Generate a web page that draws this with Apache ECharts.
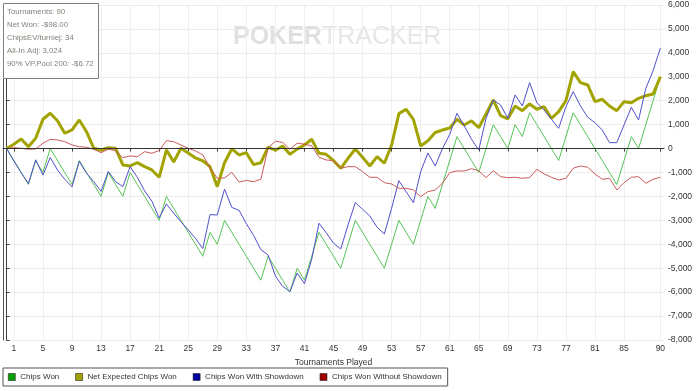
<!DOCTYPE html>
<html>
<head>
<meta charset="utf-8">
<script src="https://cdn.jsdelivr.net/npm/echarts@6/dist/echarts.min.js"></script>
<style>
html,body{margin:0;padding:0;background:#fff;}
#chart{width:700px;height:391px;}
</style>
</head>
<body>
<div id="chart"></div>
<script>
// Tournament index 0..90
const tickValues = [1,5,9,13,17,21,25,29,33,37,41,45,49,53,57,61,65,69,73,77,81,85,90];

const chipsWon = [0,-500,-1000,-1500,-500,-1000,0,-500,-1000,-1500,
  -500,-1000,-1500,-2000,-1000,-1500,-2000,-1000,-1500,-2000,
  -2500,-3000,-2000,-2500,-3000,-3500,-4000,-4500,-3500,-4000,
  -3000,-3500,-4000,-4500,-5000,-5500,-4500,-5000,-5500,-6000,
  -5000,-5500,-4500,-3500,-4000,-4500,-5000,-4000,-3000,-3500,
  -4000,-4500,-5000,-4000,-3000,-3500,-4000,-3000,-2000,-2500,
  -1500,-500,500,0,-500,-1000,0,1000,500,0,
  1000,500,1500,1000,500,0,-500,500,1500,1000,
  500,0,-500,-1000,-1500,-500,500,0,1000,2000,
  3000];

const netExpected = [0,180,400,80,430,1225,1475,1165,640,777,
  1195,706,12,-58,38,12,-685,-727,-589,-756,
  -894,-1200,-58,-560,12,-185,-390,-510,-755,-1590,
  -590,-10,-267,-171,-670,-590,65,-70,109,-233,
  -23,150,388,-197,-240,-505,-823,-405,-17,-363,
  -727,-338,-614,150,1460,1642,1224,109,330,670,
  777,860,1224,986,1160,870,1450,2030,1380,1245,
  1780,1584,1864,1642,1751,1266,1542,2002,3214,2754,
  2658,1960,2060,1780,1584,1960,1918,2100,2210,2282,
  3000];

const withShowdown = [0,-520,-1010,-1460,-470,-1110,-375,-894,-1283,-1600,
  -535,-1032,-1383,-1790,-950,-1383,-1590,-756,-1200,-1770,
  -2200,-2900,-2315,-2704,-3055,-3400,-3750,-4180,-2760,-2775,
  -1695,-2460,-2580,-3136,-3630,-4220,-4446,-5324,-5757,-5980,
  -5200,-5645,-4626,-3122,-3514,-3957,-4195,-3193,-2260,-2537,
  -2817,-3289,-3570,-2495,-1341,-1800,-2260,-965,-185,-727,
  0,590,1475,950,388,-58,1266,2030,1822,1266,
  2240,1780,2754,1918,1613,1224,848,1751,2378,1780,
  1308,1082,777,247,247,986,1726,1195,2520,3255,
  4200];

const withoutShowdown = [0,38,12,-29,-17,222,388,360,289,150,
  80,54,-29,-171,-29,-88,-380,-309,-338,-130,
  -197,-80,330,289,150,12,-100,-267,-800,-1241,
  -1230,-990,-1400,-1330,-1383,-1283,30,310,255,-29,
  222,185,109,-363,-476,-505,-823,-756,-756,-965,
  -1200,-1200,-1425,-1480,-1660,-1660,-1730,-2010,-1800,-1730,
  -1450,-1007,-936,-936,-840,-930,-1216,-923,-1174,-1216,
  -1200,-1241,-1216,-865,-1061,-1200,-1312,-1241,-823,-727,
  -781,-1061,-1283,-1241,-1730,-1425,-1200,-1174,-1450,-1283,
  -1200];

const seriesNames = ['Chips Won','Net Expected Chips Won','Chips Won With Showdown','Chips Won Without Showdown'];
const lineColors = ['#55c455','#a3a300','#5050cc','#cc5a5a'];
const legendColors = ['#00a000','#a0a000','#0000a0','#a00000'];
const infoLines = ['Tournaments: 90','Net Won: -$98.00','ChipsEV/turniej: 34','All-In Adj: 3,024','90% VP.Pool 200: -$6.72'];

const FONT = 'Liberation Sans, Arial, sans-serif';
const toPairs = arr => arr.map((v,i)=>[i,v]);
const allData = [chipsWon, netExpected, withShowdown, withoutShowdown];

const chart = echarts.init(document.getElementById('chart'), null, {renderer:'canvas'});

const series = allData.map((d, k) => {
  const s = {
    name: seriesNames[k],
    type: 'line',
    data: toPairs(d),
    symbol: 'none',
    showSymbol: false,
    animation: false,
    lineStyle: { color: lineColors[k], width: k === 1 ? 3 : 1 },
    itemStyle: { color: lineColors[k] },
    z: 2
  };
  if (k === 0) {
    s.markLine = {
      silent: true, symbol: 'none', animation: false,
      label: { show: false },
      lineStyle: { color: '#333', type: 'solid', width: 1 },
      data: [{ yAxis: 0 }]
    };
  }
  return s;
});

const infoGraphic = [
  { type: 'rect', left: 3, top: 3, z: 100, zlevel: 1,
    shape: { x: 0, y: 0, width: 95, height: 75 },
    style: { fill: '#fff', stroke: '#808080', lineWidth: 1 } }
].concat(infoLines.map((t, i) => ({
  type: 'text', left: 7, top: 8 + i * 13, z: 101, zlevel: 1,
  style: { text: t, font: '7.8px ' + FONT, fill: '#867f78' }
})));

const watermark = {
  type: 'text', left: 233, top: 25, z: 0, silent: true,
  style: {
    text: '{a|POKER}{b|TRACKER}',
    rich: {
      a: { fontSize: 25, fontWeight: 'bold', fill: '#e0e0e0', fontFamily: FONT },
      b: { fontSize: 25, fontWeight: 'normal', fill: '#e6e6e6', fontFamily: FONT }
    }
  }
};

chart.setOption({
  animation: false,
  backgroundColor: '#fff',
  grid: { left: 3, right: 36, top: 5, bottom: 51, containLabel: false },
  legend: {
    left: 3, top: 368, orient: 'horizontal',
    padding: [5, 6, 5, 5],
    borderColor: '#555', borderWidth: 1,
    itemWidth: 7, itemHeight: 7, itemGap: 16,
    icon: 'rect',
    textStyle: { fontSize: 8, color: '#333', fontFamily: FONT },
    data: seriesNames.map((n, k) => ({ name: n, itemStyle: { color: legendColors[k], borderColor: '#222', borderWidth: 0.6 } }))
  },
  xAxis: {
    type: 'value', min: -0.5, max: 90.5,
    name: 'Tournaments Played', nameLocation: 'middle', nameGap: 18,
    nameTextStyle: { fontSize: 8.5, color: '#333', fontFamily: FONT },
    axisLine: { show: true, lineStyle: { color: '#404040', width: 1 } },
    axisTick: { show: true, length: 3, customValues: tickValues, lineStyle: { color: '#404040' } },
    axisLabel: { customValues: tickValues, fontSize: 8.5, color: '#333', fontFamily: FONT, margin: 4 },
    splitLine: { show: true, lineStyle: { color: '#eeeeee', width: 1 } }
  },
  yAxis: [
    {
      type: 'value', position: 'right', min: -8000, max: 6000, interval: 1000,
      axisLine: { show: true, lineStyle: { color: '#404040', width: 1 } },
      axisTick: { show: true, length: 3, lineStyle: { color: '#404040' } },
      axisLabel: { fontSize: 8.5, color: '#333', fontFamily: FONT, margin: 4,
        formatter: v => v.toLocaleString('en-US') },
      splitLine: { show: true, lineStyle: { color: '#ececec', width: 1 } }
    },
    {
      type: 'value', position: 'left', min: -8000, max: 6000, interval: 1000,
      axisLine: { show: true, onZero: false, lineStyle: { color: '#555', width: 1 } },
      axisTick: { show: false }, axisLabel: { show: false }, splitLine: { show: false }
    }
  ],
  graphic: [watermark].concat(infoGraphic),
  series: series
});
</script>
</body>
</html>
